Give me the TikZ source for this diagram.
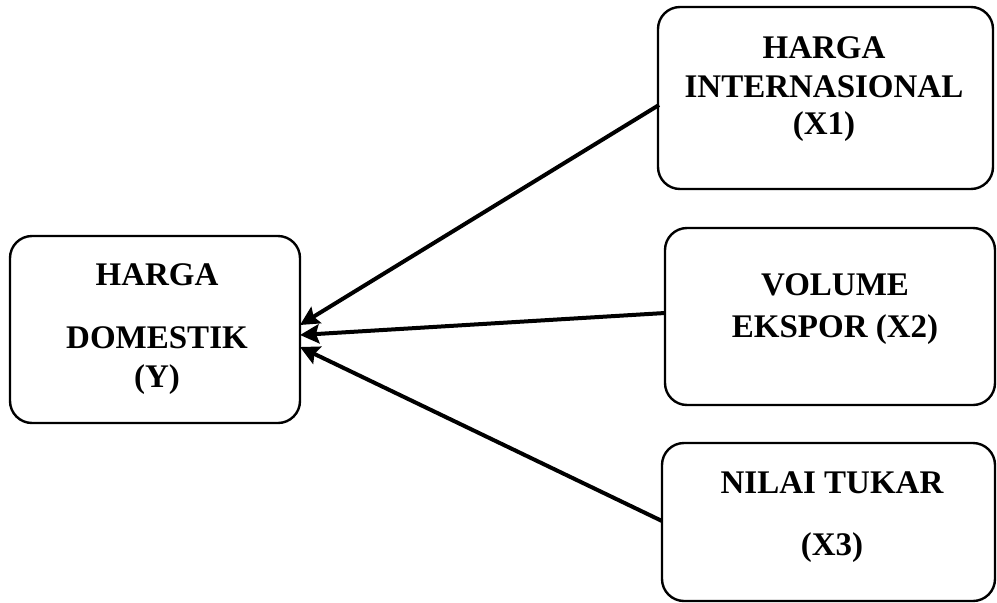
\documentclass[tikz,border=0pt]{standalone}
\usepackage{fontspec}
\setmainfont{Liberation Serif}
\usetikzlibrary{arrows.meta}
\begin{document}
\begin{tikzpicture}[x=1pt,y=-1pt,
  box/.style={draw, line width=2.4pt, rounded corners=22pt, inner sep=0pt},
  lbl/.style={anchor=base, inner sep=0pt, font=\fontsize{33}{38}\selectfont\bfseries},
  link/.style={line width=4pt, -{Stealth[length=19pt,width=19pt,inset=3pt]}}]
\useasboundingbox (0,0) rectangle (997,603);
% boxes
\node[box, minimum width=290pt, minimum height=187pt] (y) at (155,329.5) {};
\node[box, minimum width=335pt, minimum height=182pt] (x1) at (825.5,98) {};
\node[box, minimum width=330pt, minimum height=177pt] (x2) at (830,316.5) {};
\node[box, minimum width=333pt, minimum height=158pt] (x3) at (828.5,522) {};
% labels
\node[lbl] (y1) at (157,285) {HARGA};
\node[lbl] (y2) at (157,348) {DOMESTIK};
\node[lbl] (y3) at (157,387) {(Y)};
\node[lbl] (a1) at (824,58) {HARGA};
\node[lbl] (a2) at (824,97) {INTERNASIONAL};
\node[lbl] (a3) at (824,134) {(X1)};
\node[lbl] (b1) at (835,295) {VOLUME};
\node[lbl] (b2) at (835,337) {EKSPOR (X2)};
\node[lbl] (c1) at (832,493) {NILAI TUKAR};
\node[lbl] (c2) at (832,555) {(X3)};
% connector ends
\coordinate (s1) at (659,105);
\coordinate (s2) at (665,313);
\coordinate (s3) at (662,521);
\coordinate (t1) at (300,325);
\coordinate (t2) at (300,335);
\coordinate (t3) at (300,347);
\draw[link] (s1) -- (t1);
\draw[link] (s2) -- (t2);
\draw[link] (s3) -- (t3);
\end{tikzpicture}
\end{document}
